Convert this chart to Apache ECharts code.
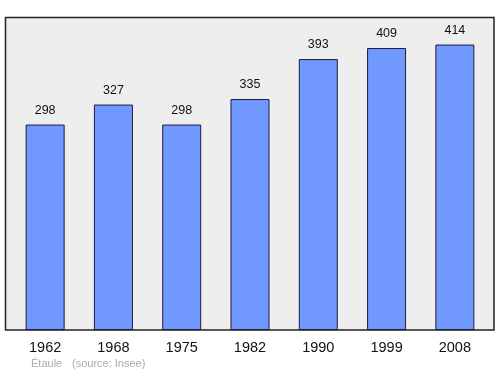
<!DOCTYPE html>
<html>
<head>
<meta charset="utf-8">
<script src="https://cdn.jsdelivr.net/npm/echarts@6/dist/echarts.min.js"></script>
<style>html,body{margin:0;padding:0;background:#fff;}#c{width:500px;height:374px;}</style>
</head>
<body>
<div id="c"></div>
<script>
var categories = ['1962', '1968', '1975', '1982', '1990', '1999', '2008'];
var population = [298, 327, 298, 335, 393, 409, 414];
var footerPlace = 'Étaule';
var footerSource = '(source: Insee)';

var chart = echarts.init(document.getElementById('c'), null, {renderer: 'canvas'});
chart.setOption({
  animation: false,
  backgroundColor: '#ffffff',
  grid: {left: 11, right: 11, top: 17, bottom: 44, containLabel: false},
  graphic: [
    {type: 'rect', z: 0, shape: {x: 5.5, y: 17.5, width: 488.5, height: 312.5},
     style: {fill: '#eeeeee', stroke: '#222222', lineWidth: 1.5}},
    {type: 'text', left: 31, top: 358, z: 5,
     style: {text: footerPlace, fill: '#aaaaaa', font: '11px "Liberation Sans", Arial, sans-serif'}},
    {type: 'text', left: 72, top: 358, z: 5,
     style: {text: footerSource, fill: '#aaaaaa', font: '11px "Liberation Sans", Arial, sans-serif'}}
  ],
  xAxis: {
    type: 'category', data: categories,
    axisLine: {show: false}, axisTick: {show: false},
    axisLabel: {margin: 10, fontSize: 14.5, color: '#111111', fontFamily: 'Liberation Sans, Arial, sans-serif'}
  },
  yAxis: {
    type: 'value', min: 0, max: 454,
    show: false, splitLine: {show: false}
  },
  series: [{
    type: 'bar', data: population, barWidth: 39, z: 2,
    itemStyle: {color: '#7098ff', borderColor: '#1c1c3c', borderWidth: 1},
    label: {show: true, position: 'top', distance: 8, fontSize: 12.5, color: '#111111',
            fontFamily: 'Liberation Sans, Arial, sans-serif'}
  }]
});
</script>
</body>
</html>
